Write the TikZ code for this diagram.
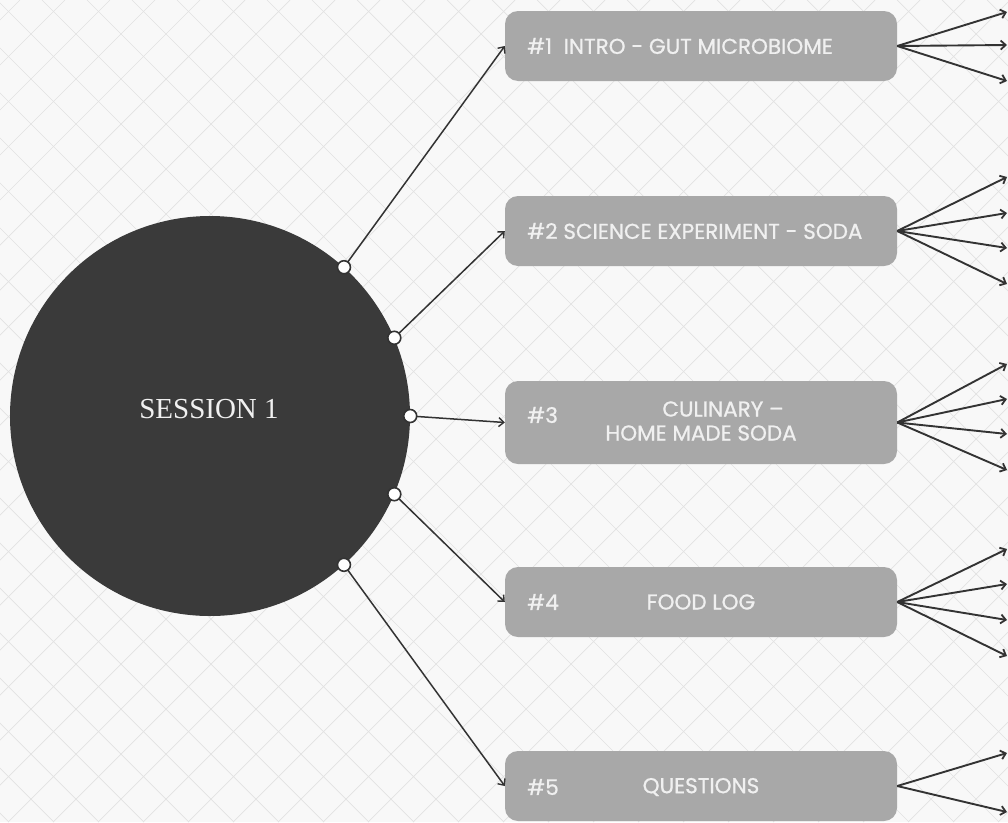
\documentclass[tikz,border=0pt]{standalone}
\usepackage{fontspec}
\setmainfont{Poppins}[FakeBold=0.9]
\newfontfamily\serifsess{Liberation Serif}
\usetikzlibrary{arrows.meta}
\definecolor{bgc}{HTML}{F8F8F8}
\definecolor{gridc}{HTML}{E2E2E2}
\definecolor{circc}{HTML}{3A3A3A}
\definecolor{boxc}{HTML}{A8A8A8}
\definecolor{txtc}{HTML}{F0F0F0}
\definecolor{linec}{HTML}{333333}
\tikzset{
  boxnode/.style={fill=boxc, rounded corners=13pt, minimum width=392pt, inner sep=0pt},
  lbl/.style={text=txtc, font=\fontsize{21.5}{25}\selectfont, inner sep=0pt, anchor=west},
  clbl/.style={text=txtc, font=\fontsize{21.5}{25}\selectfont, inner sep=0pt, align=center},
  marker/.style={circle, fill=white, draw=linec, line width=1.6pt, minimum size=13pt, inner sep=0pt},
  conn/.style={draw=linec, line width=1.5pt, -{Straight Barb[length=5pt,width=9pt,line width=1.4pt]}},
  fan/.style={draw=linec, line width=1.9pt, -{Straight Barb[length=5pt,width=9pt,line width=1.8pt]}}
}
\begin{document}
\begin{tikzpicture}[x=1pt,y=-1pt]
\useasboundingbox (0,0) rectangle (1008,822);
\fill[bgc] (0,0) rectangle (1008,822);
\begin{scope}
\clip (0,0) rectangle (1008,822);
\foreach \c in {-25,20,...,1850} {
  \draw[gridc, line width=0.7pt] (\c,0) -- (\c-822,822);
}
\foreach \d in {-858,-813,...,1050} {
  \draw[gridc, line width=0.7pt] (\d,0) -- (\d+822,822);
}
\end{scope}
% central circle
\node[circle, fill=circc, minimum size=400pt, inner sep=0pt] (S) at (210,416) {};
\node[text=txtc, font=\serifsess\fontsize{29}{34}\selectfont, inner sep=0pt] (St) at (209,409) {SESSION 1};
% boxes
\node[boxnode, minimum height=70pt] (b1) at (701,46) {};
\node[boxnode, minimum height=70pt] (b2) at (701,231) {};
\node[boxnode, minimum height=83pt] (b3) at (701,422.5) {};
\node[boxnode, minimum height=70pt] (b4) at (701,602) {};
\node[boxnode, minimum height=70pt] (b5) at (701,786) {};
% labels
\node[lbl] (t1) at (527,46) {\#1\ \ INTRO - GUT MICROBIOME};
\node[lbl] (t2) at (527,231) {\#2 SCIENCE EXPERIMENT - SODA};
\node[lbl] (t3) at (527,415) {\#3};
\node[clbl] (t3a) at (723,409) {CULINARY –};
\node[clbl] (t3b) at (701,433) {HOME MADE SODA};
\node[lbl] (t4) at (527,602) {\#4};
\node[clbl] (t4a) at (701,602) {FOOD LOG};
\node[lbl] (t5) at (527,787) {\#5};
\node[clbl] (t5a) at (701,787) {QUESTIONS};
% connectors
\draw[conn] (S.48.3) -- (b1.west);
\draw[conn] (S.23) -- (b2.west);
\draw[conn] (S.0) -- (b3.west);
\draw[conn] (S.-23) -- (b4.west);
\draw[conn] (S.-48.3) -- (b5.west);
% markers on circle
\node[marker] (m1) at (S.48.3) {};
\node[marker] (m2) at (S.23) {};
\node[marker] (m3) at (S.0) {};
\node[marker] (m4) at (S.-23) {};
\node[marker] (m5) at (S.-48.3) {};
% fan targets
\coordinate (f11) at (1007,12);
\coordinate (f12) at (1007,45);
\coordinate (f13) at (1007,81);
\coordinate (f21) at (1007,177);
\coordinate (f22) at (1007,213);
\coordinate (f23) at (1007,248);
\coordinate (f24) at (1007,284);
\coordinate (f31) at (1007,364);
\coordinate (f32) at (1007,399);
\coordinate (f33) at (1007,434);
\coordinate (f34) at (1007,470);
\coordinate (f41) at (1007,549);
\coordinate (f42) at (1007,584);
\coordinate (f43) at (1007,620);
\coordinate (f44) at (1007,656);
\coordinate (f51) at (1007,753);
\coordinate (f52) at (1007,812);
\foreach \t in {f11,f12,f13} \draw[fan] (b1.east) -- (\t);
\foreach \t in {f21,f22,f23,f24} \draw[fan] (b2.east) -- (\t);
\foreach \t in {f31,f32,f33,f34} \draw[fan] (b3.east) -- (\t);
\foreach \t in {f41,f42,f43,f44} \draw[fan] (b4.east) -- (\t);
\foreach \t in {f51,f52} \draw[fan] (b5.east) -- (\t);
\end{tikzpicture}
\end{document}
